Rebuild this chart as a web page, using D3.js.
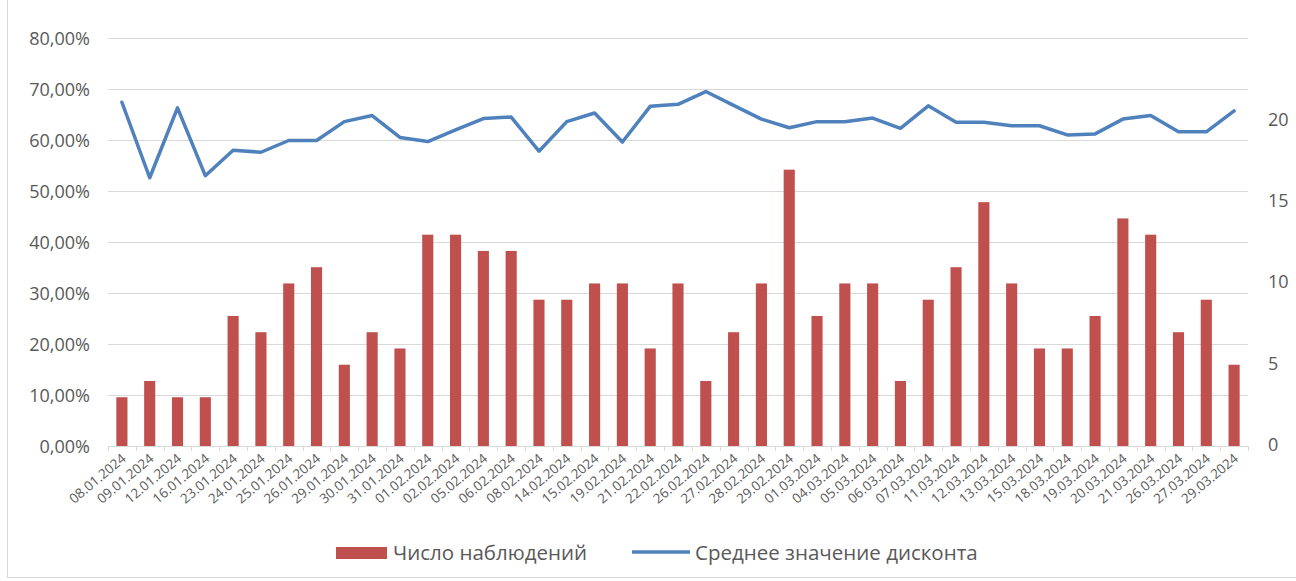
<!DOCTYPE html>
<html>
<head>
<meta charset="utf-8">
<script src="https://cdn.jsdelivr.net/npm/d3@7"></script>
<style>
  body { margin: 0; background: #fff; }
  text { font-family: 'Open Sans', sans-serif; fill: #595959; }
</style>
</head>
<body>
<div id="chart"></div>
<script>
// data
const dates = ['08.01.2024', '09.01.2024', '12.01.2024', '16.01.2024', '23.01.2024', '24.01.2024',
  '25.01.2024', '26.01.2024', '29.01.2024', '30.01.2024', '31.01.2024', '01.02.2024', '02.02.2024',
  '05.02.2024', '06.02.2024', '08.02.2024', '14.02.2024', '15.02.2024', '19.02.2024', '21.02.2024',
  '22.02.2024', '26.02.2024', '27.02.2024', '28.02.2024', '29.02.2024', '01.03.2024', '04.03.2024',
  '05.03.2024', '06.03.2024', '07.03.2024', '11.03.2024', '12.03.2024', '13.03.2024', '15.03.2024',
  '18.03.2024', '19.03.2024', '20.03.2024', '21.03.2024', '26.03.2024', '27.03.2024', '29.03.2024'];

const counts = [3, 4, 3, 3, 8, 7, 10, 11, 5, 7, 6, 13, 13, 12, 12, 9, 9, 10, 10, 6, 10, 4, 7, 10, 17,
  8, 10, 10, 4, 9, 11, 15, 10, 6, 6, 8, 14, 13, 7, 9, 5];

const discount = [0.674, 0.526, 0.663, 0.530, 0.580, 0.576, 0.599, 0.599, 0.636, 0.648, 0.605, 0.597,
  0.620, 0.642, 0.645, 0.578, 0.636, 0.653, 0.596, 0.666, 0.670, 0.695, 0.668, 0.641, 0.624, 0.636,
  0.636, 0.643, 0.623, 0.667, 0.635, 0.635, 0.628, 0.628, 0.610, 0.612, 0.641, 0.648, 0.616, 0.616, 0.657];

const leftTicks = [0, 0.1, 0.2, 0.3, 0.4, 0.5, 0.6, 0.7, 0.8];
const rightTicks = [0, 5, 10, 15, 20];

const barName = 'Число наблюдений';
const lineName = 'Среднее значение дисконта';

const barColor = '#c0504d';
const lineColor = '#4f81bd';

// dimensions
const width = 1296;
const height = 581;
const plot = { left: 108, right: 1248, top: 38, bottom: 446 };

const svg = d3.select('#chart').append('svg')
  .attr('width', width)
  .attr('height', height);

// chart border
svg.append('rect')
  .attr('x', 7.5).attr('y', -2)
  .attr('width', 1300).attr('height', 579.5)
  .attr('fill', 'none')
  .attr('stroke', '#d9d9d9');

const x = d3.scaleBand()
  .domain(dates)
  .range([plot.left, plot.right])
  .paddingInner(0.6)
  .paddingOuter(0.3);

const yLeft = d3.scaleLinear().domain([0, 0.8]).range([plot.bottom, plot.top]);
const yRight = d3.scaleLinear().domain([0, 25.1]).range([plot.bottom, plot.top]);

const pct = (d) => d3.format('.2f')(d * 100).replace('.', ',') + '%';

// gridlines
svg.append('g')
  .selectAll('line')
  .data(leftTicks.slice(1))
  .join('line')
  .attr('x1', plot.left).attr('x2', plot.right)
  .attr('y1', (d) => Math.round(yLeft(d)) + 0.5)
  .attr('y2', (d) => Math.round(yLeft(d)) + 0.5)
  .attr('stroke', '#d9d9d9')
  .attr('stroke-width', 1);

// left axis
const leftAxis = svg.append('g')
  .attr('transform', `translate(${plot.left - 18}, 0)`)
  .call(d3.axisLeft(yLeft).tickValues(leftTicks).tickFormat(pct).tickSize(0));
leftAxis.select('.domain').remove();
leftAxis.selectAll('text').attr('font-size', 18).attr('x', 0).attr('dy', '0.34em');

// right axis
const rightAxis = svg.append('g')
  .attr('transform', `translate(${plot.right + 20}, 0)`)
  .call(d3.axisRight(yRight).tickValues(rightTicks).tickSize(0));
rightAxis.select('.domain').remove();
rightAxis.selectAll('text').attr('font-size', 18).attr('x', 0).attr('dy', '0.25em');

// bars
svg.append('g')
  .selectAll('rect')
  .data(counts)
  .join('rect')
  .attr('x', (d, i) => x(dates[i]))
  .attr('width', x.bandwidth())
  .attr('y', (d) => yRight(d))
  .attr('height', (d) => yRight(0) - yRight(d))
  .attr('fill', barColor);

// bottom axis
const bottom = svg.append('g')
  .attr('transform', `translate(0, ${plot.bottom})`);
bottom.append('line')
  .attr('x1', plot.left).attr('x2', plot.right)
  .attr('y1', 0.5).attr('y2', 0.5)
  .attr('stroke', '#d9d9d9');
bottom.selectAll('.tick-mark')
  .data(d3.range(dates.length + 1))
  .join('line')
  .attr('class', 'tick-mark')
  .attr('x1', (i) => Math.round(plot.left + i * (plot.right - plot.left) / dates.length) + 0.5)
  .attr('x2', (i) => Math.round(plot.left + i * (plot.right - plot.left) / dates.length) + 0.5)
  .attr('y1', 0).attr('y2', 5)
  .attr('stroke', '#d9d9d9');
bottom.selectAll('text')
  .data(dates)
  .join('text')
  .attr('transform', (d) => `translate(${x(d) + x.bandwidth() / 2 + 5}, 14) rotate(-40)`)
  .attr('text-anchor', 'end')
  .attr('font-size', 13.5)
  .text((d) => d);

// line
const valueLine = d3.line()
  .x((d, i) => x(dates[i]) + x.bandwidth() / 2)
  .y((d) => yLeft(d));

svg.append('path')
  .datum(discount)
  .attr('d', valueLine)
  .attr('fill', 'none')
  .attr('stroke', lineColor)
  .attr('stroke-width', 3.5)
  .attr('stroke-linejoin', 'round')
  .attr('stroke-linecap', 'round');

// legend
const legend = svg.append('g');
legend.append('rect')
  .attr('x', 336).attr('y', 547)
  .attr('width', 51).attr('height', 12)
  .attr('fill', barColor);
legend.append('text')
  .attr('x', 393).attr('y', 560)
  .attr('font-size', 20.5)
  .text(barName);
legend.append('line')
  .attr('x1', 632).attr('x2', 690)
  .attr('y1', 552).attr('y2', 552)
  .attr('stroke', lineColor)
  .attr('stroke-width', 3.5);
legend.append('text')
  .attr('x', 695).attr('y', 560)
  .attr('font-size', 20.5)
  .text(lineName);
</script>
</body>
</html>
